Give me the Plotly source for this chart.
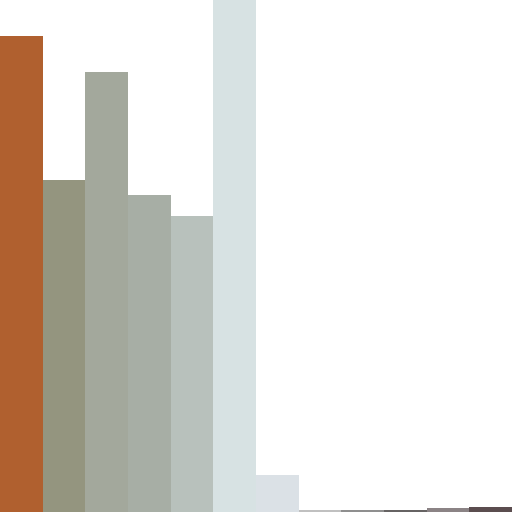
import plotly.graph_objects as go

# 12 categories, heights (pixel units, full height = 512)
categories = [f"c{i}" for i in range(1, 13)]
values = [476, 332, 440, 317, 296, 512, 37, 2, 2, 2, 4, 5]
colors = [
    "#b0602f", "#94957f", "#a3a89c", "#a7aea5", "#b8c1bc", "#d7e2e3",
    "#dbe1e6", "#c0c0c0", "#8f8f8f", "#666363", "#8b8385", "#5b4d4f",
]

fig = go.Figure(go.Bar(x=categories, y=values, marker=dict(color=colors, line=dict(width=0))))

fig.update_layout(
    width=512, height=512,
    margin=dict(l=0, r=0, t=0, b=0),
    paper_bgcolor="white", plot_bgcolor="white",
    bargap=0, showlegend=False,
    xaxis=dict(visible=False),
    yaxis=dict(visible=False, range=[0, max(values)]),
)
# page body has an 8px default margin; drop it so the chart fills the window
fig.write_html(
    "out.html",
    config={"displayModeBar": False},
    post_script="document.body.style.margin='0';document.body.style.overflow='hidden';",
)
